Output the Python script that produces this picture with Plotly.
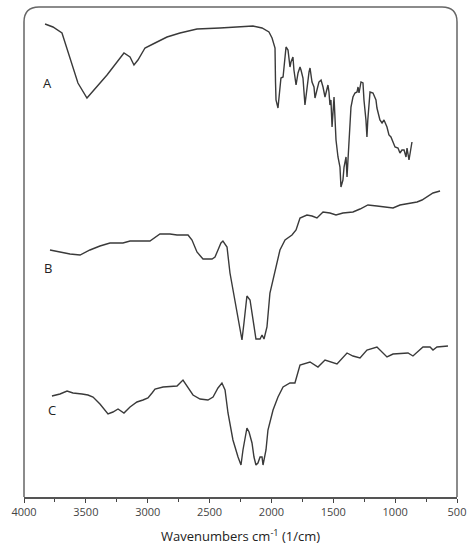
import plotly.graph_objects as go

# Spectrum A
wn_a = [3830, 3766, 3693, 3628, 3564, 3491, 3410, 3329, 3248, 3192, 3143, 3111, 3079, 3022, 2941, 2844, 2739,
        2602, 2416, 2311, 2149, 2076, 2020, 1995, 1971, 1967, 1963, 1947, 1939, 1923, 1906, 1890, 1882, 1866,
        1850, 1842, 1826, 1818, 1801, 1785, 1769, 1761, 1745, 1729, 1713, 1696, 1688, 1672, 1656, 1648, 1632,
        1616, 1599, 1583, 1567, 1543, 1535, 1527, 1519, 1510, 1494, 1486, 1478, 1462, 1446, 1438, 1422, 1413,
        1397, 1389, 1381, 1365, 1357, 1341, 1325, 1308, 1300, 1292, 1276, 1260, 1252, 1236, 1228, 1221, 1211,
        1203, 1179, 1155, 1147, 1123, 1106, 1090, 1066, 1050, 1034, 1017, 1001, 977, 961, 945, 928, 912, 904,
        888, 872, 864]
t_a = [473, 470, 464, 440, 414, 399, 410, 422, 435, 444, 440, 432, 437, 449, 454, 460, 464,
       468, 469, 470, 471, 469, 465, 459, 449, 415, 397, 389, 399, 419, 420, 445, 450, 447,
       430, 435, 440, 427, 412, 424, 430, 427, 419, 392, 409, 425, 429, 415, 410, 399, 407,
       415, 417, 410, 400, 412, 405, 392, 397, 370, 400, 370, 357, 340, 330, 310, 317, 330,
       340, 320, 337, 370, 390, 400, 404, 405, 410, 404, 415, 414, 397, 377, 360, 377, 397,
       405, 404, 397, 389, 377, 374, 377, 370, 362, 360, 354, 350, 349, 344, 347, 347, 340, 349,
       337, 350, 355]

# Spectrum B
wn_b = [3790, 3709, 3628, 3547, 3467, 3386, 3305, 3200, 3143, 2982, 2941, 2901, 2820, 2763, 2674, 2642,
        2602, 2553, 2480, 2456, 2432, 2408, 2392, 2359, 2335, 2294, 2254, 2238, 2222, 2198, 2173, 2157,
        2141, 2125, 2092, 2076, 2060, 2036, 2012, 1971, 1931, 1890, 1834, 1801, 1769, 1713, 1672, 1632,
        1583, 1527, 1478, 1422, 1341, 1284, 1220, 1147, 1066, 1017, 961, 880, 823, 783, 742, 694, 637]
t_b = [247, 245, 243, 242, 247, 251, 254, 254, 256, 256, 260, 263, 263, 262, 262, 257,
       245, 238, 238, 240, 247, 254, 256, 250, 224, 194, 167, 157, 174, 201, 197, 184,
       167, 158, 158, 162, 158, 170, 204, 227, 247, 257, 262, 267, 279, 282, 281, 279,
       285, 284, 282, 284, 285, 288, 292, 291, 290, 289, 292, 294, 295, 297, 300, 304, 306]

# Spectrum C
wn_c = [3774, 3709, 3652, 3604, 3531, 3483, 3442, 3386, 3321, 3281, 3240, 3192, 3143, 3087, 3038, 2998,
        2965, 2941, 2876, 2763, 2715, 2674, 2634, 2577, 2513, 2472, 2456, 2432, 2400, 2375, 2351, 2311,
        2270, 2246, 2230, 2198, 2181, 2157, 2141, 2125, 2109, 2092, 2076, 2068, 2044, 2028, 1987, 1947,
        1906, 1850, 1810, 1769, 1688, 1624, 1567, 1470, 1389, 1341, 1284, 1228, 1147, 1106, 1066, 1017,
        936, 896, 856, 815, 775, 718, 694, 662, 573]
t_c = [101, 103, 106, 104, 103, 102, 100, 93, 83, 85, 88, 84, 90, 95, 97, 99,
       104, 108, 110, 111, 117, 110, 102, 98, 97, 100, 104, 109, 114, 107, 84, 57,
       40, 32, 47, 69, 65, 54, 40, 32, 34, 40, 40, 32, 47, 67, 87, 100,
       110, 114, 114, 132, 135, 130, 137, 133, 144, 141, 139, 147, 150, 145, 140, 143,
       144, 144, 141, 146, 150, 150, 147, 150, 151]

labels = ["A", "B", "C"]
label_wn = [3814, 3806, 3774]
label_t = [414, 229, 87]

tick_vals = [4000, 3500, 3000, 2500, 2000, 1500, 1000, 500]
tick_text = ["4000", "3500", "3000", "2500", "2000", "1500", "1000", "500"]

fig = go.Figure()
for wn, t in [(wn_a, t_a), (wn_b, t_b), (wn_c, t_c)]:
    fig.add_trace(go.Scatter(x=wn, y=t, mode="lines",
                             line=dict(color="#3a3a3a", width=1.4), showlegend=False))

for lab, xw, yt in zip(labels, label_wn, label_t):
    fig.add_annotation(x=xw, y=yt, text=lab, showarrow=False,
                       font=dict(family="Open Sans", size=13, color="#222"))

rx, ry = 15 / 433, 15 / 490
frame = (f"M 0 0 L 0 {1 - ry} Q 0 1 {rx} 1 L {1 - rx} 1 Q 1 1 1 {1 - ry} L 1 0")
fig.add_shape(type="path", path=frame, xref="paper", yref="paper",
              line=dict(color="#666", width=1.5))

fig.update_layout(
    width=470, height=550,
    margin=dict(l=24, r=13, t=7, b=53, autoexpand=False),
    paper_bgcolor="white", plot_bgcolor="white",
    xaxis=dict(range=[4000, 500], autorange=False, automargin=False,
               tickvals=tick_vals, ticktext=tick_text,
               ticks="outside", ticklen=4, tickcolor="#444", tickwidth=1.2,
               minor=dict(dtick=250, ticks="outside", ticklen=3, tickcolor="#444", showgrid=False),
               showline=True, linecolor="#555", linewidth=1.5, showgrid=False, zeroline=False,
               tickfont=dict(family="Open Sans", size=11, color="#444"),
               title=dict(text="Wavenumbers cm<sup>-1</sup> (1/cm)", standoff=14,
                          font=dict(family="Open Sans", size=13, color="#222"))),
    yaxis=dict(range=[0, 490], autorange=False, visible=False, automargin=False),
)

fig.write_html("out.html", config={"displayModeBar": False},
               post_script="document.body.style.margin='0';")
